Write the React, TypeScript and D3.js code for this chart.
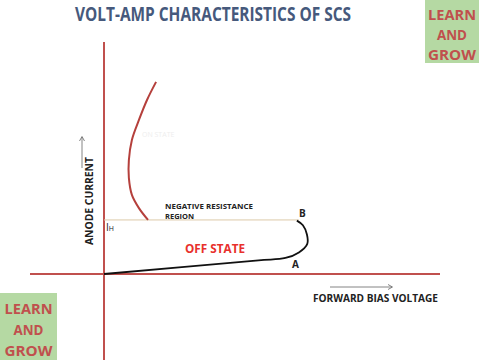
import React from "react";
import * as d3 from "d3";

const W = 480;
const H = 360;

// Chart text
const title = "VOLT-AMP CHARACTERISTICS OF SCS";
const xLabel = "FORWARD BIAS VOLTAGE";
const yLabel = "ANODE CURRENT";
const logoLines = ["LEARN", "AND", "GROW"];

// ON-state branch (voltage, current) in arbitrary units
const onV = [1.55, 1.28, 1.04, 0.83, 0.74, 0.74, 0.83, 1.04, 1.31];
const onI = [8.28, 7.5, 6.64, 5.78, 4.91, 4.14, 3.41, 2.84, 2.33];

// OFF-state branch from origin through A to B
const offV = [0, 4.6, 5.4, 5.8, 6.05, 6.04, 5.92, 5.74];
const offI = [0, 0.59, 0.69, 0.93, 1.3, 1.7, 2.1, 2.3];

// Holding current level
const holdI = 2.33;
const holdVEnd = 5.8;

export default function App() {
  const x = d3.scaleLinear().domain([0, 10]).range([104, 440]);
  const y = d3.scaleLinear().domain([0, 10]).range([274, 42]);

  const onPts: [number, number][] = onV.map((v, i) => [v, onI[i]]);
  const offPts: [number, number][] = offV.map((v, i) => [v, offI[i]]);

  const lineGen = d3
    .line<[number, number]>()
    .x((d) => x(d[0]))
    .y((d) => y(d[1]))
    .curve(d3.curveCatmullRom.alpha(0.5));

  const axisColor = "#c0504d";
  const font = "'Open Sans', 'DejaVu Sans', sans-serif";

  const Logo = ({ x0, y0, w, h, base }: { x0: number; y0: number; w: number; h: number; base: number[] }) => (
    <g>
      <rect x={x0} y={y0} width={w} height={h} fill="#b5d9a3" />
      {logoLines.map((t, i) => (
        <text
          key={t}
          x={x0 + w / 2}
          y={y0 + base[i]}
          textAnchor="middle"
          fontFamily={font}
          fontWeight="bold"
          fontSize={15}
          fill="#c0504d"
          textLength={t.length === 3 ? 30 : 48}
          lengthAdjust="spacingAndGlyphs"
        >
          {t}
        </text>
      ))}
    </g>
  );

  return (
    <svg
      width={W}
      height={H}
      viewBox={`0 0 ${W} ${H}`}
      style={{ position: "absolute", left: 0, top: 0, background: "#fff" }}
    >
      <rect x={0} y={0} width={W} height={H} fill="#fff" />
      {/* Title */}
      <text
        x={75}
        y={21}
        fontFamily={font}
        fontWeight="bold"
        fontSize={19.5}
        fill="#46597c"
        textLength={276}
        lengthAdjust="spacingAndGlyphs"
      >
        {title}
      </text>

      <Logo x0={425} y0={0} w={54} h={63} base={[20, 40, 60]} />
      <Logo x0={0} y0={293} w={57} h={67} base={[21, 42, 63]} />

      {/* Axes */}
      <line x1={x(0)} x2={x(0)} y1={42} y2={360} stroke={axisColor} strokeWidth={2} />
      <line x1={30} x2={440} y1={y(0)} y2={y(0)} stroke={axisColor} strokeWidth={2} />

      {/* Y label with arrow */}
      <text
        transform={`translate(93,${201}) rotate(-90)`}
        textAnchor="middle"
        fontFamily={font}
        fontWeight="bold"
        fontSize={11}
        fill="#222"
        textLength={88}
        lengthAdjust="spacingAndGlyphs"
      >
        {yLabel}
      </text>
      <line x1={82} x2={82} y1={168} y2={137} stroke="#666" strokeWidth={0.8} />
      <path d="M79.5,141 L82,136.5 L84.5,141" fill="none" stroke="#666" strokeWidth={0.8} />

      {/* X label with arrow */}
      <text
        x={313}
        y={302}
        fontFamily={font}
        fontWeight="bold"
        fontSize={10.5}
        fill="#222"
        textLength={125}
        lengthAdjust="spacingAndGlyphs"
      >
        {xLabel}
      </text>
      <line x1={330} x2={392} y1={287} y2={287} stroke="#666" strokeWidth={0.8} />
      <path d="M388,284.5 L392.5,287 L388,289.5" fill="none" stroke="#666" strokeWidth={0.8} />

      {/* Holding current line */}
      <line
        x1={x(0)}
        x2={x(holdVEnd)}
        y1={y(holdI)}
        y2={y(holdI)}
        stroke="#dcc9a8"
        strokeWidth={1}
      />
      <text x={106} y={231} fontFamily={font} fontSize={10} fill="#222">
        I
        <tspan fontSize={7}>H</tspan>
      </text>

      {/* ON state curve */}
      <path d={lineGen(onPts) || ""} fill="none" stroke="#b5403c" strokeWidth={2} />
      <text x={142} y={137} fontFamily={font} fontSize={7} fill="#eeeeee">
        ON STATE
      </text>

      {/* OFF state curve */}
      <path d={lineGen(offPts) || ""} fill="none" stroke="#111" strokeWidth={1.8} />

      {/* Annotations */}
      <text
        x={165}
        y={209}
        fontFamily={font}
        fontWeight="bold"
        fontSize={7.5}
        fill="#222"
        textLength={88}
        lengthAdjust="spacingAndGlyphs"
      >
        NEGATIVE RESISTANCE
      </text>
      <text x={165} y={219} fontFamily={font} fontWeight="bold" fontSize={7.5} fill="#222">
        REGION
      </text>
      <text x={299} y={217} fontFamily={font} fontWeight="bold" fontSize={10} fill="#222">
        B
      </text>
      <text x={292} y={268} fontFamily={font} fontWeight="bold" fontSize={10} fill="#222">
        A
      </text>
      <text
        x={185}
        y={253}
        fontFamily={font}
        fontWeight="bold"
        fontSize={11.5}
        fill="#e8302c"
        textLength={60}
        lengthAdjust="spacingAndGlyphs"
      >
        OFF STATE
      </text>
    </svg>
  );
}
